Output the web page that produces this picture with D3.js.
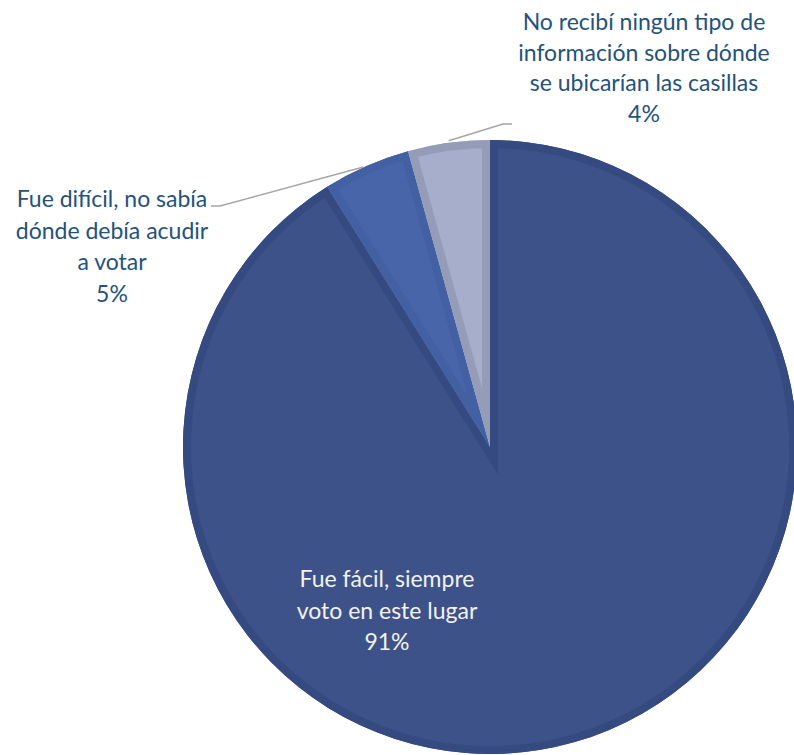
<!DOCTYPE html>
<html>
<head>
<meta charset="utf-8">
<script src="https://cdn.jsdelivr.net/npm/d3@7"></script>
<style>
  html, body { margin: 0; padding: 0; background: #ffffff; }
  svg { display: block; }
</style>
</head>
<body>
<svg id="chart" width="794" height="755"></svg>
<script>
// ---- data ----
const categories = [
  "Fue fácil, siempre voto en este lugar",
  "Fue difícil, no sabía dónde debía acudir a votar",
  "No recibí ningún tipo de información sobre dónde se ubicarían las casillas"
];
const values = [91.1, 4.6, 4.3];
const valueLabels = ["91%", "5%", "4%"];
const labelLines = [
  ["Fue fácil, siempre", "voto en este lugar", "91%"],
  ["Fue difícil, no sabía", "dónde debía acudir", "a votar", "5%"],
  ["No recibí ningún tipo de", "información sobre dónde", "se ubicarían las casillas", "4%"]
];

// ---- style ----
const fills   = ["#3d5289", "#4965a9", "#a7aecb"];
const borders = ["#354a80", "#4360a2", "#959cb8"];
const borderW = 8;

const svg = d3.select("#chart");
const cx = 490, cy = 447, R = 307;

const pie = d3.pie().sort(null).value(d => d);
const arcs = pie(values);
const arc = d3.arc().innerRadius(0).outerRadius(R);

const g = svg.append("g").attr("transform", `translate(${cx},${cy})`);
const defs = svg.append("defs");

arcs.forEach((a, i) => {
  defs.append("clipPath").attr("id", "clip" + i)
    .append("path").attr("d", arc(a));
});

const slices = g.selectAll("g.slice").data(arcs).enter().append("g").attr("class", "slice");
slices.append("path")
  .attr("d", arc)
  .attr("fill", (d, i) => fills[i]);
slices.append("path")
  .attr("d", arc)
  .attr("fill", "none")
  .attr("stroke", (d, i) => borders[i])
  .attr("stroke-width", borderW * 2)
  .attr("stroke-linejoin", "miter")
  .attr("stroke-miterlimit", 10)
  .attr("clip-path", (d, i) => `url(#clip${i})`);

// ---- leader lines ----
const edgeArc = d3.arc().innerRadius(R).outerRadius(R);
function edgePoint(a) {
  const m = (a.startAngle + a.endAngle) / 2;
  return [Math.sin(m) * R, -Math.cos(m) * R];
}
const leaderColor = "#a6a6a6";
// mid slice (index 1): to label on the left
{
  const p = edgePoint(arcs[1]);
  const pts = [[p[0] - 3, p[1] + 1], [220 - cx, 206 - cy], [211 - cx, 206 - cy]];
  g.append("path").attr("d", d3.line()(pts))
    .attr("fill", "none").attr("stroke", leaderColor).attr("stroke-width", 1.6);
}
// light slice (index 2): to label at top right
{
  const p = edgePoint(arcs[2]);
  const pts = [[p[0], p[1] - 2], [503 - cx, 124 - cy], [512 - cx, 124 - cy]];
  g.append("path").attr("d", d3.line()(pts))
    .attr("fill", "none").attr("stroke", leaderColor).attr("stroke-width", 1.6);
}

// ---- labels ----
const labelPos = [
  { x: 387, y: 587, color: "#f2f2f2", lh: 31.5 },
  { x: 112, y: 207, color: "#25527c", lh: 31.6 },
  { x: 644, y: 30,  color: "#25527c", lh: 30.7 }
];
labelLines.forEach((lines, i) => {
  const t = svg.append("text")
    .attr("text-anchor", "middle")
    .attr("font-family", "Lato, 'Open Sans', sans-serif")
    .attr("font-size", 23)
    .attr("fill", labelPos[i].color);
  lines.forEach((ln, j) => {
    t.append("tspan").attr("x", labelPos[i].x).attr("y", labelPos[i].y + j * labelPos[i].lh).text(ln);
  });
});
</script>
</body>
</html>
